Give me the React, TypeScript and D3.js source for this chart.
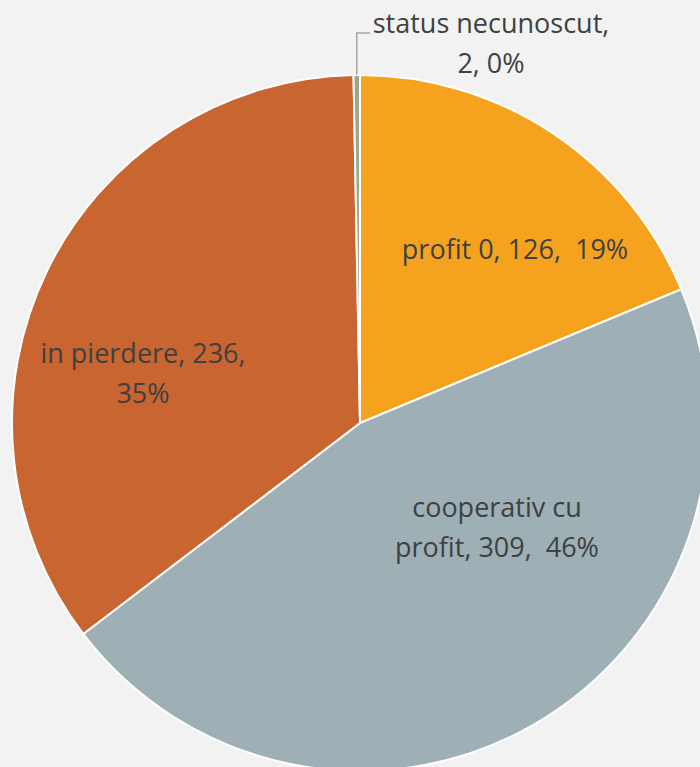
import React from "react";
import * as d3 from "d3";

const categories = ["profit 0", "cooperativ cu profit", "in pierdere", "status necunoscut"];
const values = [126, 309, 236, 2];
const percents = ["19%", "46%", "35%", "0%"];
const colors = ["#F5A31F", "#9EAFB5", "#C86530", "#9EA78A"];

const W = 700;
const H = 767;
const cx = 360;
const cy = 423;
const R = 348;

export default function App() {
  React.useEffect(() => {
    document.body.style.margin = "0";
  }, []);
  const pie = d3.pie<number>().sort(null).value((d) => d)(values);
  const arc = d3.arc<d3.PieArcDatum<number>>().innerRadius(0).outerRadius(R);
  const font = "'Open Sans', sans-serif";
  const fs = 27;
  const tc = "#404040";
  const labels: { lines: string[]; x: number; y: number }[] = [
    { lines: [`${categories[0]}, ${values[0]},  ${percents[0]}`], x: 515, y: 259 },
    { lines: ["cooperativ cu", `profit, ${values[1]},  ${percents[1]}`], x: 497, y: 517 },
    { lines: [`${categories[2]}, ${values[2]},`, percents[2]], x: 143, y: 363 },
    { lines: ["status necunoscut,", `${values[3]}, ${percents[3]}`], x: 491, y: 33 },
  ];
  const lineH = 40;
  const statusArc = pie[3];
  const midA = (statusArc.startAngle + statusArc.endAngle) / 2;
  const lx = cx + Math.sin(midA) * R;
  const ly = cy - Math.cos(midA) * R;
  return (
    <svg width={W} height={H} style={{ display: "block", background: "#F2F2F2" }}>
      <rect x={0} y={0} width={W} height={H} fill="#F2F2F2" />
      <g transform={`translate(${cx},${cy})`}>
        {pie.map((p, i) => (
          <path key={i} d={arc(p) || ""} fill={colors[i]} stroke="#FFFFFF" strokeWidth={2} />
        ))}
      </g>
      <polyline
        points={`${lx},${ly} ${lx},33 370,33`}
        fill="none"
        stroke="#A6A6A6"
        strokeWidth={1.5}
      />
      {labels.map((l, i) => (
        <text
          key={i}
          x={l.x}
          y={l.y}
          textAnchor="middle"
          fontFamily={font}
          fontSize={fs}
          fill={tc}
          style={{ whiteSpace: "pre" }}
        >
          {l.lines.map((s, j) => (
            <tspan key={j} x={l.x} y={l.y + j * lineH}>
              {s}
            </tspan>
          ))}
        </text>
      ))}
    </svg>
  );
}
